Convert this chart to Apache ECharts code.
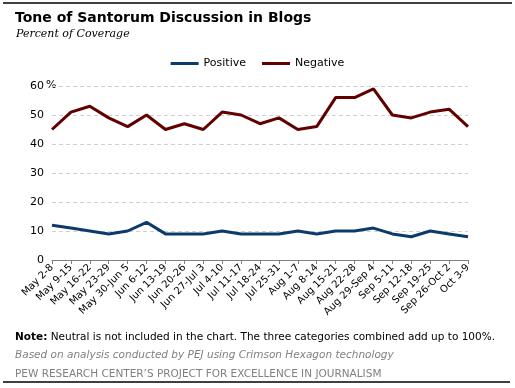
<!DOCTYPE html>
<html><head><meta charset="utf-8">
<script src="https://cdn.jsdelivr.net/npm/echarts@6/dist/echarts.min.js"></script>
<style>html,body{margin:0;padding:0;background:#fff}#c{width:515px;height:388px}</style>
</head><body><div id="c"></div>
<script>
const categories = ["May 2-8","May 9-15","May 16-22","May 23-29","May 30-Jun 5","Jun 6-12","Jun 13-19","Jun 20-26","Jun 27-Jul 3","Jul 4-10","Jul 11-17","Jul 18-24","Jul 25-31","Aug 1-7","Aug 8-14","Aug 15-21","Aug 22-28","Aug 29-Sep 4","Sep 5-11","Sep 12-18","Sep 19-25","Sep 26-Oct 2","Oct 3-9"];
const positive = [12,11,10,9,10,13,9,9,9,10,9,9,9,10,9,10,10,11,9,8,10,9,8];
const negative = [45,51,53,49,46,50,45,47,45,51,50,47,49,45,46,56,56,59,50,49,51,52,46];
const yTicks = [0,10,20,30,40,50,60];

const font = 'DejaVu Sans, Verdana, sans-serif';
const chart = echarts.init(document.getElementById('c'), null, {renderer:'canvas'});
chart.setOption({
  animation:false,
  backgroundColor:'#fff',
  title:[
    {text:'Tone of Santorum Discussion in Blogs', left:10, top:6, textStyle:{fontFamily:font, fontWeight:'bold', fontSize:14, color:'#000'}},
    {text:'Percent of Coverage', left:11, top:24, textStyle:{fontFamily:'DejaVu Serif, Georgia, serif', fontStyle:'italic', fontWeight:'normal', fontSize:11, color:'#000'}},
    {text:'{b|Note:}{n| Neutral is not included in the chart. The three categories combined add up to 100%.}', left:10, top:327,
      textStyle:{fontFamily:font, fontWeight:'normal', fontSize:10.5, color:'#000',
        rich:{b:{fontFamily:font, fontWeight:'bold', fontSize:10.5, color:'#000'}, n:{fontFamily:font, fontWeight:'normal', fontSize:10.5, color:'#000'}}}},
    {text:'Based on analysis conducted by PEJ using Crimson Hexagon technology', left:10, top:345, textStyle:{fontFamily:font, fontStyle:'italic', fontWeight:'normal', fontSize:10.5, color:'#808080'}},
    {text:'PEW RESEARCH CENTER\u2019S PROJECT FOR EXCELLENCE IN JOURNALISM', left:10, top:364, textStyle:{fontFamily:font, fontWeight:'normal', fontSize:10.5, color:'#808080'}}
  ],
  graphic:[
    {type:'line', shape:{x1:3,y1:3,x2:512,y2:3}, style:{stroke:'#000', lineWidth:1.5}},
    {type:'line', shape:{x1:3,y1:382,x2:510,y2:382}, style:{stroke:'#000', lineWidth:1.5}},
    {type:'text', left:46, top:80, style:{text:'%', fontFamily:font, fontSize:11, fill:'#000'}}
  ],
  legend:{
    top:53, left:'center', itemWidth:28, itemHeight:3, itemGap:16, icon:'rect',
    textStyle:{fontFamily:font, fontSize:11, color:'#000'},
    data:['Positive','Negative']
  },
  grid:{left:52, right:47, top:86, bottom:128},
  xAxis:{
    type:'category', data:categories, boundaryGap:false,
    axisLine:{lineStyle:{color:'#808080', width:1}},
    axisTick:{show:true, alignWithLabel:true, length:4, lineStyle:{color:'#808080'}},
    axisLabel:{rotate:45, interval:0, fontFamily:font, fontSize:10, color:'#000', margin:6}
  },
  yAxis:{
    type:'value', min:0, max:60, interval:10,
    axisLine:{show:false}, axisTick:{show:false},
    axisLabel:{fontFamily:font, fontSize:11, color:'#000', margin:8,
      formatter:function(v){return yTicks.indexOf(v)>=0 ? String(v) : '';}},
    splitLine:{lineStyle:{color:'#d0d0d0', type:[4,3], width:1}}
  },
  series:[
    {name:'Positive', type:'line', data:positive, symbol:'none', lineStyle:{color:'#0b3a6b', width:3}, itemStyle:{color:'#0b3a6b'}},
    {name:'Negative', type:'line', data:negative, symbol:'none', lineStyle:{color:'#620000', width:3}, itemStyle:{color:'#620000'}}
  ]
});
</script></body></html>
